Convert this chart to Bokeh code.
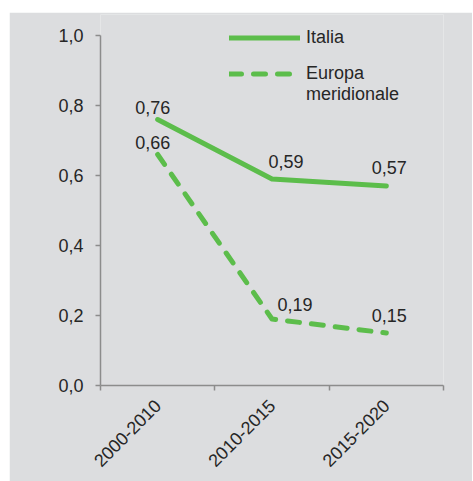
import math
from bokeh.plotting import figure
from bokeh.models import (ColumnDataSource, Range1d, LinearAxis, FixedTicker,
                          CustomJSTickFormatter, Legend, LegendItem)
from bokeh.core.properties import value
from bokeh.embed import file_html
from bokeh.resources import INLINE

categories = ["2000-2010", "2010-2015", "2015-2020"]
italia = [0.76, 0.59, 0.57]
europa_merid = [0.66, 0.19, 0.15]
series_names = ["Italia", "Europa\nmeridionale"]
y_ticks = [0.0, 0.2, 0.4, 0.6, 0.8, 1.0]

# label offsets (screen px) for the value annotations
italia_dx = [-5, 14, 3]
italia_dy = [-12, -18, -19]
europa_dx = [-5, 23, 3]
europa_dy = [-12, -15, -18]

GREEN = "#5cbd4b"
BG = "#dcdddf"
AXIS = "#8c8c8c"
TXT = "#262626"
FONT = "Liberation Sans"
FS = "18px"

n = len(categories)
idx = list(range(n))

p = figure(width=463, height=469, output_backend="svg", toolbar_location=None,
           x_range=Range1d(-0.5, n - 0.5),
           y_range=Range1d(0, 1.06),
           x_axis_location=None, y_axis_location=None,
           min_border_left=91, min_border_right=29, min_border_top=2, min_border_bottom=96)
p.margin = (12, 0, 0, 9)
p.background_fill_color = BG
p.border_fill_color = BG
p.outline_line_color = None
p.xgrid.visible = False
p.ygrid.visible = False

# y axis
yax = LinearAxis(ticker=FixedTicker(ticks=y_ticks), bounds=(y_ticks[0], y_ticks[-1]),
                 formatter=CustomJSTickFormatter(code="return tick.toFixed(1).replace('.', ',');"))
yax.axis_line_color = AXIS
yax.axis_line_width = 1.5
yax.major_tick_line_color = AXIS
yax.major_tick_line_width = 1.5
yax.major_tick_in = 0
yax.major_tick_out = 5
yax.minor_tick_line_color = None
yax.major_label_standoff = 12
yax.major_label_text_font = FONT
yax.major_label_text_font_size = FS
yax.major_label_text_color = TXT
p.add_layout(yax, "left")

# x axis: labels at category centres, ticks at category edges
xax = LinearAxis(ticker=FixedTicker(ticks=idx, minor_ticks=[i - 0.5 for i in range(n + 1)]))
xax.major_label_overrides = {i: c for i, c in zip(idx, categories)}
xax.axis_line_color = AXIS
xax.axis_line_width = 1.5
xax.major_tick_line_color = None
xax.major_tick_in = 0
xax.major_tick_out = 0
xax.minor_tick_line_color = AXIS
xax.minor_tick_line_width = 1.5
xax.minor_tick_in = 0
xax.minor_tick_out = 5
xax.major_label_orientation = math.pi / 4
xax.major_label_standoff = 12
xax.major_label_text_font = FONT
xax.major_label_text_font_size = FS
xax.major_label_text_color = TXT
p.add_layout(xax, "below")

src_i = ColumnDataSource(dict(x=idx, y=italia,
                              t=[f"{v:.2f}".replace(".", ",") for v in italia],
                              dx=italia_dx, dy=italia_dy))
src_e = ColumnDataSource(dict(x=idx, y=europa_merid,
                              t=[f"{v:.2f}".replace(".", ",") for v in europa_merid],
                              dx=europa_dx, dy=europa_dy))

r_i = p.line("x", "y", source=src_i, line_color=GREEN, line_width=5, line_cap="round", line_join="round")
r_e = p.line("x", "y", source=src_e, line_color=GREEN, line_width=5, line_cap="round", line_join="round",
             line_dash="12 12")
# invisible helper renderer so the second line of the legend label gets its own row
r_blank = p.line("x", "y", source=src_e, line_alpha=0)

for src in (src_i, src_e):
    p.text("x", "y", text="t", source=src, x_offset="dx", y_offset="dy",
           text_align="center", text_baseline="middle",
           text_font=value(FONT), text_font_size=FS, text_color=TXT)

leg_style = dict(orientation="vertical", background_fill_alpha=0, border_line_color=None,
                 padding=0, margin=0, spacing=0, glyph_width=71, glyph_height=21,
                 label_standoff=6, label_text_font=FONT, label_text_font_size=FS,
                 label_text_color=TXT, label_height=21)

name2_a, name2_b = series_names[1].split("\n")
legend_a = Legend(items=[LegendItem(label=series_names[0], renderers=[r_i])],
                  location=(129, 337), **leg_style)
legend_b = Legend(items=[LegendItem(label=name2_a, renderers=[r_e]),
                         LegendItem(label=name2_b, renderers=[r_blank])],
                  location=(129, 280), **leg_style)
p.add_layout(legend_a, "center")
p.add_layout(legend_b, "center")

open("out.html", "w").write(file_html(p, INLINE))
